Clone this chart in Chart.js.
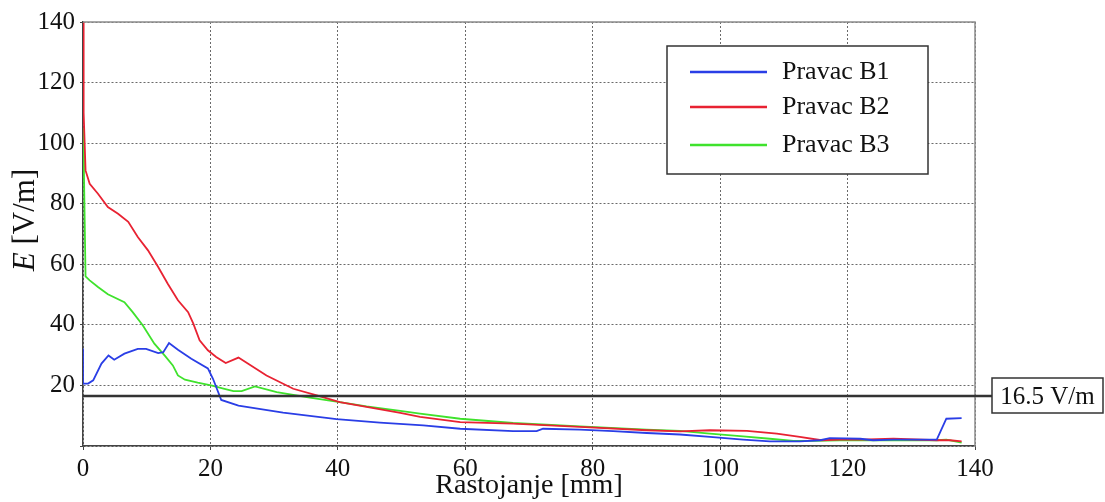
<!DOCTYPE html>
<html>
<head>
<meta charset="utf-8">
<title>E [V/m] - Rastojanje [mm]</title>
<script src="https://cdn.jsdelivr.net/npm/chart.js@4.4.1/dist/chart.umd.min.js"></script>
<style>
  html, body { margin: 0; padding: 0; background: #fff; }
  #wrap { width: 1105px; height: 502px; }
</style>
</head>
<body>
<div id="wrap"><canvas id="fieldChart" width="1105" height="502"></canvas></div>
<script>
// Distance [mm] and field strength E [V/m] for each direction
const b1X = [0, 0, 0.8, 1.6, 2.9, 4.0, 4.9, 6.5, 8.6, 9.9, 11.8, 12.6, 13.5, 14.9, 17.0, 19.6, 20.4, 21.7, 24.4, 31.4, 39.8, 46.6, 53.4, 59.2, 67.5, 71.2, 72.2, 78.0, 83.2, 88.5, 93.7, 98.4, 103.6, 107.8, 112.5, 115.7, 117.2, 122.0, 124.0, 127.2, 134.0, 135.5, 137.9];
const b1Y = [32.2, 20.6, 20.6, 21.7, 27.2, 29.9, 28.5, 30.5, 32.1, 32.1, 30.7, 31.0, 34.0, 31.8, 28.8, 25.6, 22.2, 15.2, 13.3, 11.0, 8.9, 7.7, 6.8, 5.7, 4.9, 4.9, 5.7, 5.4, 4.9, 4.3, 3.8, 3.0, 2.1, 1.5, 1.5, 1.9, 2.6, 2.4, 1.9, 2.1, 2.1, 9.0, 9.2];

const b2X = [0, 0.1, 0.4, 1.05, 2.35, 3.9, 5.5, 7.1, 8.6, 10.2, 11.8, 13.3, 14.9, 16.5, 17.3, 18.3, 19.6, 20.9, 22.4, 24.4, 28.8, 33.0, 36.7, 40.3, 44.5, 49.8, 52.9, 59.2, 67.5, 78.0, 88.5, 93.7, 98.4, 104.2, 108.9, 112.5, 115.9, 118.8, 122.0, 127.2, 134.0, 136.1, 137.9];
const b2Y = [140, 110, 91, 86.6, 83.3, 78.9, 76.7, 74.0, 69.0, 64.6, 59.1, 53.6, 48.1, 44.2, 40.5, 34.9, 31.6, 29.4, 27.4, 29.2, 23.3, 18.9, 16.7, 14.5, 12.9, 10.9, 9.6, 7.9, 7.4, 6.3, 5.2, 4.8, 5.2, 5.0, 4.1, 3.0, 1.9, 2.1, 2.1, 2.4, 1.9, 1.9, 1.5];

const b3X = [0, 0.15, 0.4, 1.05, 2.35, 3.9, 6.5, 7.8, 9.4, 11.2, 12.8, 14.1, 14.9, 16.0, 18.0, 20.1, 22.2, 23.6, 24.9, 27.0, 30.4, 35.6, 40.3, 44.5, 49.8, 52.9, 59.2, 67.5, 78.0, 88.5, 93.7, 98.4, 103.6, 107.8, 111.5, 114.6, 118.8, 124.6, 134.0, 135.5, 137.9];
const b3Y = [105, 90, 56, 54.7, 52.5, 50.1, 47.5, 44.2, 39.8, 33.8, 29.9, 26.6, 23.3, 21.9, 20.9, 20.0, 18.9, 18.1, 18.1, 19.7, 17.8, 16.0, 14.5, 13.1, 11.6, 10.7, 9.0, 7.6, 6.5, 5.4, 5.0, 4.1, 3.2, 2.4, 1.7, 1.7, 1.9, 1.9, 1.9, 2.1, 1.1];

const seriesLabels = ["Pravac B1", "Pravac B2", "Pravac B3"];
const seriesColors = ["#2a3ee6", "#e82232", "#3fe22c"];

const xTicks = [0, 20, 40, 60, 80, 100, 120, 140];
const yTicks = [0, 20, 40, 60, 80, 100, 120, 140];

const limitValue = 16.5;
const limitLabel = "16.5 V/m";

const SERIF = "'Liberation Serif', 'Times New Roman', serif";

const toPoints = (xs, ys) => xs.map((x, i) => ({ x, y: ys[i] }));
const seriesData = [toPoints(b1X, b1Y), toPoints(b2X, b2Y), toPoints(b3X, b3Y)];

// Solid frame on top/right, limit line with its label, legend and y title
const decorations = {
  id: "decorations",
  afterDatasetsDraw(chart) {
    const { ctx, chartArea: a, scales } = chart;
    ctx.save();

    ctx.strokeStyle = "#8c8c8c";
    ctx.lineWidth = 1.5;
    ctx.beginPath();
    ctx.moveTo(a.left, a.top);
    ctx.lineTo(a.right, a.top);
    ctx.lineTo(a.right, a.bottom);
    ctx.stroke();

    // 16.5 V/m limit
    const ly = scales.y.getPixelForValue(limitValue);
    ctx.strokeStyle = "#333";
    ctx.lineWidth = 2.5;
    ctx.beginPath();
    ctx.moveTo(a.left, ly);
    ctx.lineTo(992, ly);
    ctx.stroke();

    ctx.lineWidth = 1.5;
    ctx.fillStyle = "#fff";
    ctx.fillRect(992, 378, 111, 35);
    ctx.strokeRect(992, 378, 111, 35);
    ctx.fillStyle = "#111";
    ctx.font = "25px " + SERIF;
    ctx.textAlign = "center";
    ctx.textBaseline = "alphabetic";
    ctx.fillText(limitLabel, 1047.5, 404);

    // legend
    ctx.fillStyle = "#fff";
    ctx.fillRect(667, 46, 261, 128);
    ctx.strokeStyle = "#333";
    ctx.strokeRect(667, 46, 261, 128);
    const rows = [72, 107, 145];
    ctx.font = "26px " + SERIF;
    ctx.textAlign = "left";
    chart.data.datasets.forEach((ds, i) => {
      ctx.strokeStyle = ds.borderColor;
      ctx.lineWidth = 2.5;
      ctx.beginPath();
      ctx.moveTo(690, rows[i]);
      ctx.lineTo(767, rows[i]);
      ctx.stroke();
      ctx.fillStyle = "#111";
      ctx.fillText(ds.label, 782, rows[i] + 7);
    });

    // y axis title: italic E, upright unit
    ctx.translate(34, 220);
    ctx.rotate(-Math.PI / 2);
    const italic = "italic 31px " + SERIF;
    const upright = "31px " + SERIF;
    ctx.font = italic;
    const wE = ctx.measureText("E").width;
    ctx.font = upright;
    const wU = ctx.measureText(" [V/m]").width;
    const start = -(wE + wU) / 2;
    ctx.fillStyle = "#111";
    ctx.font = italic;
    ctx.fillText("E", start, 0);
    ctx.font = upright;
    ctx.fillText(" [V/m]", start + wE, 0);

    ctx.restore();
  }
};

new Chart(document.getElementById("fieldChart"), {
  type: "line",
  data: {
    datasets: seriesData.map((data, i) => ({
      label: seriesLabels[i],
      data,
      borderColor: seriesColors[i],
      backgroundColor: seriesColors[i],
      borderWidth: 1.8,
      pointRadius: 0,
      tension: 0,
      fill: false,
    })),
  },
  options: {
    responsive: false,
    animation: false,
    layout: { padding: { left: 0, right: 130, top: 22, bottom: 0 } },
    plugins: { legend: { display: false }, tooltip: { enabled: false } },
    scales: {
      x: {
        type: "linear",
        min: 0,
        max: 140,
        afterBuildTicks: (s) => { s.ticks = xTicks.map((v) => ({ value: v })); },
        afterFit: (s) => { s.height = 56; },
        ticks: { color: "#111", font: { family: SERIF, size: 25 }, padding: 4, maxRotation: 0 },
        grid: { color: "#6a6a6a", tickColor: "#444", tickLength: 4, lineWidth: 1 },
        border: { color: "#444", width: 1.5, dash: [2, 2] },
        title: {
          display: true,
          text: "Rastojanje [mm]",
          color: "#111",
          font: { family: SERIF, size: 28 },
          padding: { top: 0, bottom: 0 },
        },
      },
      y: {
        min: 0,
        max: 140,
        afterBuildTicks: (s) => { s.ticks = yTicks.map((v) => ({ value: v })); },
        afterFit: (s) => { s.width = 83; },
        ticks: {
          color: "#111",
          font: { family: SERIF, size: 25 },
          padding: 5,
          callback: (v) => (v === 0 ? "" : v),
        },
        grid: { color: "#6a6a6a", tickColor: "#444", tickLength: 3, lineWidth: 1 },
        border: { color: "#444", width: 1.5, dash: [2, 2] },
      },
    },
  },
  plugins: [decorations],
});
</script>
</body>
</html>
